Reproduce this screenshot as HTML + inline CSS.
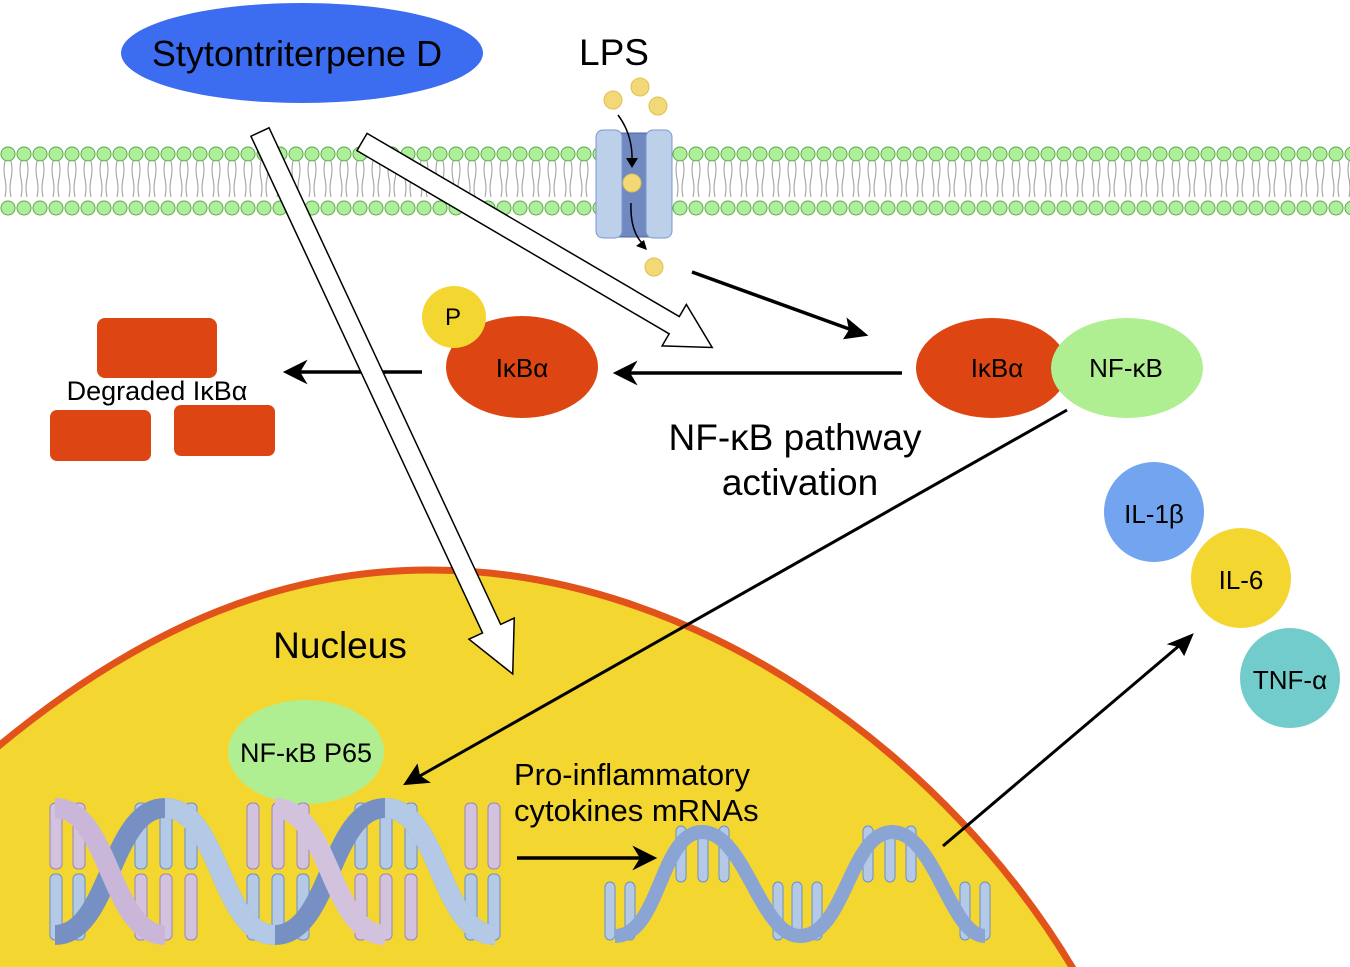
<!DOCTYPE html>
<html><head><meta charset="utf-8"><style>
html,body{margin:0;padding:0;background:#fff;}
svg{display:block;}
text{font-family:"Liberation Sans",Arial,sans-serif;fill:#000;}
</style></head><body>
<svg width="1350" height="967" viewBox="0 0 1350 967" xmlns="http://www.w3.org/2000/svg">
<defs>
<pattern id="mem" x="0" y="145" width="16" height="75" patternUnits="userSpaceOnUse">
<path d="M5,16 q-2,9 0,18 q2,9 0,18 M11,16 q2,9 0,18 q-2,9 0,18" fill="none" stroke="#9a9a9a" stroke-width="1"/>
<circle cx="8" cy="9" r="7" fill="#aef09a" stroke="#5aa648" stroke-width="1"/>
<circle cx="8" cy="63" r="7" fill="#aef09a" stroke="#5aa648" stroke-width="1"/>
</pattern>
</defs>
<!-- membrane -->
<rect x="0" y="145" width="1350" height="75" fill="url(#mem)"/>
<!-- nucleus -->
<path d="M-5,749 C150,620 290,570 430,570 C700,570 950,760 1075,972 L-5,972 Z" fill="#f4d631"/>
<path d="M-5,749 C150,620 290,570 430,570 C700,570 950,760 1075,972" fill="none" stroke="#e2521b" stroke-width="7"/>

<!-- channel -->
<rect x="612" y="133" width="46" height="104" fill="#7089c0" stroke="#4e68a8"/>
<rect x="596" y="130" width="26" height="108" rx="7" fill="#bcd0ea" stroke="#7b97cc"/>
<rect x="646" y="130" width="26" height="108" rx="7" fill="#bcd0ea" stroke="#7b97cc"/>
<circle cx="613" cy="100" r="9" fill="#f2d877" stroke="#e0c050"/>
<circle cx="640" cy="87" r="9" fill="#f2d877" stroke="#e0c050"/>
<circle cx="658" cy="106" r="9" fill="#f2d877" stroke="#e0c050"/>
<circle cx="632" cy="183" r="9" fill="#f2d877" stroke="#e0c050"/>
<circle cx="654" cy="267" r="9" fill="#f2d877" stroke="#e0c050"/>
<path d="M618,115 Q633,135 632,162" fill="none" stroke="#000" stroke-width="1.5"/>
<path d="M626,158 L632,168 L638,158 Z" fill="#000"/>
<path d="M631,203 Q630,230 642,243" fill="none" stroke="#000" stroke-width="1.5"/>
<path d="M636,246 L647,250 L644,240 Z" fill="#000"/>
<text x="614" y="65" font-size="37" text-anchor="middle">LPS</text>

<!-- Stytontriterpene D -->
<ellipse cx="302" cy="53" rx="181" ry="50" fill="#3c6cf0"/>
<text x="297" y="66" font-size="36" text-anchor="middle">Stytontriterpene D</text>

<!-- degraded -->
<rect x="97" y="318" width="120" height="60" rx="8" fill="#dd4612"/>
<rect x="50" y="410" width="101" height="51" rx="7" fill="#dd4612"/>
<rect x="174" y="405" width="101" height="51" rx="7" fill="#dd4612"/>
<text x="157" y="400" font-size="27" text-anchor="middle">Degraded IκBα</text>

<!-- arrows black -->
<line x1="422" y1="372" x2="300" y2="372" stroke="#000" stroke-width="3.5"/>
<path d="M285,372 L305,362 L299,372 L305,382 Z" fill="#000" stroke="#000" stroke-width="2"/>
<line x1="902" y1="373" x2="630" y2="373" stroke="#000" stroke-width="3.5"/>
<path d="M615,373 L635,363 L629,373 L635,383 Z" fill="#000" stroke="#000" stroke-width="2"/>
<line x1="692" y1="272" x2="852" y2="330" stroke="#000" stroke-width="3.5"/>
<path d="M866,335 L845,338 L850,330 L848,320 Z" fill="#000" stroke="#000" stroke-width="2"/>
<line x1="1067" y1="410" x2="418" y2="777" stroke="#000" stroke-width="3"/>
<path d="M405,784 L417,766 L419,776 L428,782 Z" fill="#000" stroke="#000" stroke-width="2"/>
<line x1="943" y1="846" x2="1180" y2="645" stroke="#000" stroke-width="3"/>
<path d="M1192,635 L1184,654 L1179,646 L1170,644 Z" fill="#000" stroke="#000" stroke-width="2"/>
<line x1="517" y1="858" x2="640" y2="858" stroke="#000" stroke-width="3.5"/>
<path d="M655,858 L635,848 L641,858 L635,868 Z" fill="#000" stroke="#000" stroke-width="2"/>

<!-- P-IkBa -->
<ellipse cx="522" cy="367" rx="76" ry="51" fill="#dd4612"/>
<ellipse cx="454" cy="317" rx="32" ry="31" fill="#f4d631"/>
<text x="453" y="325" font-size="24" text-anchor="middle">P</text>
<text x="522" y="377" font-size="26" text-anchor="middle">IκBα</text>

<!-- IkBa NF-kB -->
<ellipse cx="992" cy="368" rx="76" ry="50" fill="#dd4612"/>
<ellipse cx="1127" cy="368" rx="76" ry="50" fill="#b0ee92"/>
<text x="997" y="377" font-size="26" text-anchor="middle">IκBα</text>
<text x="1126" y="377" font-size="26" text-anchor="middle">NF-κB</text>
<text x="795" y="450" font-size="37" text-anchor="middle">NF-κB pathway</text>
<text x="800" y="495" font-size="37" text-anchor="middle">activation</text>

<!-- cytokines -->
<circle cx="1154" cy="512" r="50" fill="#72a4f0"/>
<circle cx="1241" cy="578" r="50" fill="#f4d631"/>
<circle cx="1290" cy="678" r="50" fill="#72cccc"/>
<text x="1154" y="523" font-size="26" text-anchor="middle">IL-1β</text>
<text x="1241" y="589" font-size="26" text-anchor="middle">IL-6</text>
<text x="1290" y="689" font-size="26" text-anchor="middle">TNF-α</text>

<!-- hollow arrows -->
<g transform="translate(260,132) rotate(65)">
<polygon points="0,-10 548,-10 548,-25 598,0 548,25 548,10 0,10" fill="#fff" stroke="#000" stroke-width="1.5"/>
</g>
<g transform="translate(362,142) rotate(30.4)">
<polygon points="0,-10 362,-10 362,-24 406,0 362,24 362,10 0,10" fill="#fff" stroke="#000" stroke-width="1.5"/>
</g>

<text x="340" y="658" font-size="37" text-anchor="middle">Nucleus</text>
<ellipse cx="306" cy="752" rx="78" ry="52" fill="#b0ee92"/>
<text x="306" y="762" font-size="27" text-anchor="middle">NF-κB P65</text>
<text x="514" y="785" font-size="31">Pro-inflammatory</text>
<text x="514" y="821" font-size="31">cytokines mRNAs</text>

<!-- DNA double helix -->
<g stroke-width="1">
<g fill="#b3c9e6" stroke="#6d8fcc">
<rect x="50" y="874" width="12" height="66" rx="5"/><rect x="73" y="874" width="12" height="66" rx="5"/>
<rect x="135" y="803" width="12" height="66" rx="5"/><rect x="160" y="803" width="12" height="66" rx="5"/><rect x="185" y="803" width="12" height="66" rx="5"/>
<rect x="247" y="874" width="12" height="66" rx="5"/><rect x="272" y="874" width="12" height="66" rx="5"/><rect x="297" y="874" width="12" height="66" rx="5"/>
<rect x="355" y="803" width="12" height="66" rx="5"/><rect x="380" y="803" width="12" height="66" rx="5"/><rect x="405" y="803" width="12" height="66" rx="5"/>
<rect x="465" y="874" width="12" height="66" rx="5"/><rect x="488" y="874" width="12" height="66" rx="5"/>
</g>
<g fill="#d3c2de" stroke="#9b86b8">
<rect x="50" y="803" width="12" height="66" rx="5"/><rect x="73" y="803" width="12" height="66" rx="5"/>
<rect x="135" y="874" width="12" height="66" rx="5"/><rect x="160" y="874" width="12" height="66" rx="5"/><rect x="185" y="874" width="12" height="66" rx="5"/>
<rect x="247" y="803" width="12" height="66" rx="5"/><rect x="272" y="803" width="12" height="66" rx="5"/><rect x="297" y="803" width="12" height="66" rx="5"/>
<rect x="355" y="874" width="12" height="66" rx="5"/><rect x="380" y="874" width="12" height="66" rx="5"/><rect x="405" y="874" width="12" height="66" rx="5"/>
<rect x="465" y="803" width="12" height="66" rx="5"/><rect x="488" y="803" width="12" height="66" rx="5"/>
</g>
</g>
<path d="M55,935 C110,935 110,808 165,808 S220,935 275,935 S330,808 385,808 S440,935 495,935" fill="none" stroke="#7690c4" stroke-width="20"/>
<path d="M55,808 C110,808 110,935 165,935" fill="none" stroke="#c9b6d8" stroke-width="20"/>
<path d="M165,808 C220,808 220,935 275,935" fill="none" stroke="#b3c9e6" stroke-width="20"/>
<path d="M275,808 C330,808 330,935 385,935" fill="none" stroke="#d3c2de" stroke-width="20"/>
<path d="M385,808 C440,808 440,935 495,935" fill="none" stroke="#b3c9e6" stroke-width="20"/>

<!-- mRNA -->
<g fill="#b3c9e6" stroke="#6d8fcc" stroke-width="1">
<rect x="605" y="882" width="10" height="58" rx="5"/><rect x="625" y="882" width="10" height="58" rx="5"/>
<rect x="676" y="826" width="10" height="56" rx="5"/><rect x="698" y="826" width="10" height="56" rx="5"/><rect x="719" y="826" width="10" height="56" rx="5"/>
<rect x="773" y="882" width="10" height="58" rx="5"/><rect x="792" y="882" width="10" height="58" rx="5"/><rect x="812" y="882" width="10" height="58" rx="5"/>
<rect x="863" y="826" width="10" height="56" rx="5"/><rect x="885" y="826" width="10" height="56" rx="5"/><rect x="906" y="826" width="10" height="56" rx="5"/>
<rect x="960" y="882" width="10" height="58" rx="5"/><rect x="980" y="882" width="10" height="58" rx="5"/>
</g>
<path d="M615,936 C660,936 660,832 702,832 C745,832 760,936 800,936 C845,936 850,832 892,832 C935,832 950,936 985,936" fill="none" stroke="#8aa4d4" stroke-width="14"/>
</svg>
</body></html>
